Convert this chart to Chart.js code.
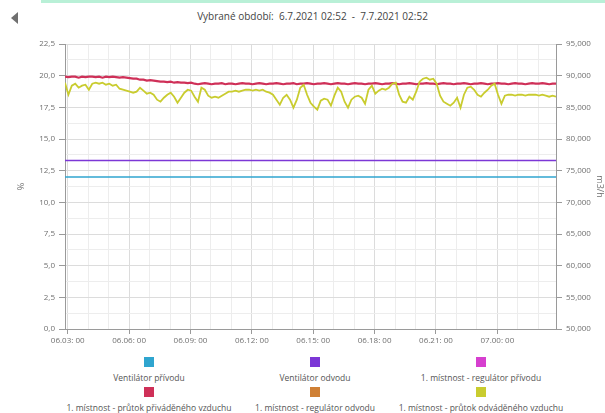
<!DOCTYPE html>
<html lang="cs">
<head>
<meta charset="utf-8">
<script src="https://cdn.jsdelivr.net/npm/chart.js@4.4.1/dist/chart.umd.min.js"></script>
<style>
  html, body { margin: 0; padding: 0; background: #fff; }
  body { width: 605px; height: 413px; position: relative; overflow: hidden; font-family: "Open Sans", sans-serif; }
  .topbar { position: absolute; left: 41px; top: 0; right: 0; height: 3px; background: #b9f0d7; }
  .back { position: absolute; left: 11px; top: 12px; width: 0; height: 0;
          border-top: 6px solid transparent; border-bottom: 6px solid transparent; border-right: 7px solid #707070; }
  .period { position: absolute; left: 0; top: 9px; width: 585px; padding-left: 20px; text-align: center;
            font-size: 10px; color: #444; white-space: pre; }
  .chart-box { position: absolute; left: 0; top: 0; width: 605px; height: 352px; }
  .legend { position: absolute; left: 66px; top: 357px; width: 498px;
            display: grid; grid-template-columns: repeat(3, 1fr); row-gap: 4px; }
  .legend-item { text-align: center; font-size: 8.5px; color: #555; line-height: 11px; white-space: nowrap; }
  .legend-item i { display: block; width: 10px; height: 10px; margin: 0 auto 5px; }
</style>
</head>
<body>
<div class="topbar"></div>
<div class="back"></div>
<div class="period">Vybrané období:  6.7.2021 02:52  -  7.7.2021 02:52</div>
<div class="chart-box"><canvas id="chart"></canvas></div>
<div class="legend" id="legend"></div>

<script>
// series names and colours (legend order)
const seriesNames = [
  "Ventilátor přívodu",
  "Ventilátor odvodu",
  "1. místnost - regulátor přívodu",
  "1. místnost - průtok přiváděného vzduchu",
  "1. místnost - regulátor odvodu",
  "1. místnost - průtok odváděného vzduchu"
]
const seriesColors = ["#2fa5cf", "#7c37d6", "#d63fcf", "#cf3058", "#cf8035", "#c9cc2f"]

// time: hours counted from 6.7. 00:00, samples every 10 minutes from 02:52
const startHour = 2 + 52 / 60
const endHour = startHour + 24
const sampleStepMin = 10
const hourTicks = [3, 4, 5, 6, 7, 8, 9, 10, 11, 12, 13, 14, 15, 16, 17, 18, 19, 20, 21, 22, 23, 24, 25, 26]

// fans (%), flat over the whole period
const fanTimes = [startHour, endHour]
const fanSupply = [12.0, 12.0]
const fanExhaust = [13.3, 13.3]

// regulators: no readings visible in the period
const regSupply = []
const regExhaust = []

// supply air flow (m3/h)
const flowSupply = [
  89840, 89760, 89840, 89840, 89680, 89840, 89760, 89840, 89840, 89760,
  89840, 89680, 89840, 89760, 89840, 89760, 89680, 89760, 89680, 89600,
  89520, 89520, 89360, 89360, 89210, 89280, 89210, 89130, 89050, 89050,
  88970, 89050, 88890, 88970, 88890, 88890, 88810, 88890, 88730, 88650,
  88730, 88810, 88730, 88650, 88730, 88730, 88810, 88650, 88730, 88730,
  88650, 88730, 88810, 88730, 88730, 88650, 88730, 88810, 88730, 88650,
  88730, 88730, 88810, 88730, 88650, 88730, 88730, 88810, 88650, 88730,
  88730, 88810, 88730, 88650, 88730, 88730, 88810, 88730, 88650, 88730,
  88810, 88730, 88730, 88650, 88730, 88810, 88730, 88730, 88650, 88730,
  88730, 88810, 88730, 88650, 88730, 88730, 88810, 88730, 88650, 88730,
  88730, 88810, 88730, 88650, 88730, 88730, 88810, 88730, 88730, 88650,
  88730, 88810, 88730, 88730, 88650, 88730, 88730, 88810, 88730, 88650,
  88730, 88730, 88810, 88730, 88650, 88730, 88730, 88810, 88730, 88730,
  88650, 88730, 88810, 88730, 88730, 88650, 88730, 88810, 88730, 88730,
  88810, 88730, 88650, 88730, 88730
]

// exhaust air flow (m3/h)
const flowExhaust = [
  88890, 86990, 88420, 88730, 88100, 88420, 88570, 87780, 88730, 88890,
  88730, 88890, 88570, 88730, 88420, 88570, 87940, 87780, 87630, 87470,
  87310, 87470, 88100, 87630, 87150, 87310, 86990, 86210, 85890, 86520,
  86990, 87310, 86680, 85730, 86520, 87310, 87780, 87630, 86680, 85890,
  88100, 87780, 86840, 86520, 86680, 86520, 86840, 87150, 87470, 87470,
  87630, 87470, 87630, 87780, 87780, 87630, 87780, 87630, 87780, 87470,
  87310, 86990, 86210, 85420, 86520, 86990, 86210, 84940, 86210, 88100,
  88570, 86990, 85730, 85100, 84630, 86050, 86360, 86210, 85260, 86840,
  88100, 87470, 85890, 84940, 86210, 86680, 86840, 86520, 85570, 87780,
  88420, 87150, 87630, 87940, 87780, 88100, 88730, 88890, 86990, 85890,
  85730, 86680, 86210, 87470, 89050, 89520, 89680, 89360, 89520, 88730,
  86840, 85890, 85570, 85260, 85730, 86520, 84940, 86990, 88100, 88260,
  87780, 86990, 86680, 87310, 87780, 88420, 88730, 86990, 85570, 86840,
  86990, 86990, 86840, 86990, 86990, 86840, 86990, 86990, 86990, 86840,
  86990, 86840, 86680, 86840, 86680
]

function sampled(values) {
  return values.map((v, i) => ({ x: startHour + (i * sampleStepMin) / 60, y: v }))
}
function paired(times, values) {
  return values.map((v, i) => ({ x: times[i], y: v }))
}
function hourLabel(h) {
  const day = 6 + Math.floor(h / 24)
  const hh = h % 24
  return "0" + day + "." + String(hh).padStart(2, "0") + ": 00"
}
const isMajor = (ctx) => ctx.tick && ctx.tick.label !== ""

const tickFont = { family: "Open Sans", size: 8 }
const datasetValues = [
  { data: paired(fanTimes, fanSupply), axis: "y", width: 1.5, order: 2 },
  { data: paired(fanTimes, fanExhaust), axis: "y", width: 1.5, order: 2 },
  { data: regSupply, axis: "y", width: 1.5, order: 2 },
  { data: sampled(flowSupply), axis: "y1", width: 2.2, order: 1 },
  { data: regExhaust, axis: "y", width: 1.5, order: 2 },
  { data: sampled(flowExhaust), axis: "y1", width: 1.8, order: 0 }
]

const chart = new Chart(document.getElementById("chart"), {
  type: "line",
  data: {
    datasets: datasetValues.map((d, i) => ({
      label: seriesNames[i],
      data: d.data,
      yAxisID: d.axis,
      borderColor: seriesColors[i],
      backgroundColor: seriesColors[i],
      borderWidth: d.width,
      pointRadius: 0,
      tension: 0,
      order: d.order,
    })),
  },
  options: {
    responsive: true,
    maintainAspectRatio: false,
    animation: false,
    layout: { padding: { top: 44, left: 16, right: 0, bottom: 0 } },
    plugins: {
      legend: { display: false },
      tooltip: { enabled: false },
    },
    scales: {
      x: {
        type: "linear",
        min: startHour,
        max: endHour,
        afterBuildTicks: (scale) => { scale.ticks = hourTicks.map((h) => ({ value: h })) },
        afterFit: (scale) => { scale.height = 23 },
        ticks: {
          autoSkip: false,
          maxRotation: 0,
          padding: 2,
          color: "#707070",
          font: tickFont,
          callback: (v) => (v % 3 === 0 ? hourLabel(v) : ""),
        },
        grid: {
          color: (ctx) => (isMajor(ctx) ? "#dcdcdc" : "#ededed"),
          tickColor: (ctx) => (isMajor(ctx) ? "#9a9a9a" : "rgba(0,0,0,0)"),
          tickLength: 5,
        },
        border: { color: "#9a9a9a", width: 1 },
      },
      y: {
        position: "left",
        min: 0,
        max: 22.5,
        afterBuildTicks: (scale) => {
          scale.ticks = []
          for (let i = 0; i <= 18; i++) scale.ticks.push({ value: i * 1.25 })
        },
        afterFit: (scale) => { scale.width = 49 },
        ticks: {
          padding: 4,
          color: "#707070",
          font: tickFont,
          callback: (v) => (Math.abs(v / 2.5 - Math.round(v / 2.5)) < 1e-6 ? v.toFixed(1).replace(".", ",") : ""),
        },
        grid: {
          color: (ctx) => (isMajor(ctx) ? "#dcdcdc" : "#ededed"),
          tickColor: (ctx) => (isMajor(ctx) ? "#9a9a9a" : "rgba(0,0,0,0)"),
          tickLength: 6,
        },
        border: { color: "#9a9a9a", width: 1 },
        title: { display: true, text: "%", color: "#707070", font: { family: "Open Sans", size: 9 }, padding: 0 },
      },
      y1: {
        position: "right",
        min: 50000,
        max: 95000,
        afterBuildTicks: (scale) => {
          scale.ticks = []
          for (let i = 0; i <= 18; i++) scale.ticks.push({ value: 50000 + i * 2500 })
        },
        afterFit: (scale) => { scale.width = 49 },
        ticks: {
          padding: 4,
          color: "#707070",
          font: tickFont,
          callback: (v) => (v % 5000 === 0 ? v.toLocaleString("en-US") : ""),
        },
        grid: {
          drawOnChartArea: false,
          tickColor: (ctx) => (isMajor(ctx) ? "#9a9a9a" : "rgba(0,0,0,0)"),
          tickLength: 6,
        },
        border: { color: "#9a9a9a", width: 1 },
        title: { display: true, text: "m3/h", color: "#707070", font: { family: "Open Sans", size: 9 }, padding: 0 },
      },
    },
  },
})

// legend: square above the name, three columns
const legend = document.getElementById("legend")
seriesNames.forEach((name, i) => {
  const item = document.createElement("div")
  item.className = "legend-item"
  item.innerHTML = '<i style="background:' + seriesColors[i] + '"></i>' + name
  legend.appendChild(item)
})
</script>
</body>
</html>
